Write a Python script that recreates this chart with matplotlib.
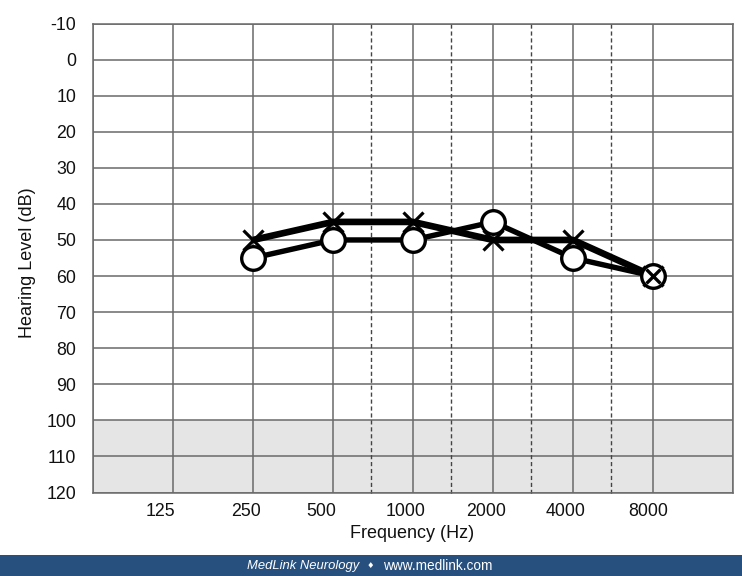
import matplotlib
matplotlib.use("Agg")
import matplotlib.pyplot as plt
from matplotlib.patches import Rectangle
from matplotlib.transforms import ScaledTranslation

plt.rcParams['font.family'] = ['Liberation Sans', 'DejaVu Sans']

# audiogram values
freq_labels = ['125', '250', '500', '1000', '2000', '4000', '8000']
freq_pos = [1, 2, 3, 4, 5, 6, 7]
hl_ticks = [-10, 0, 10, 20, 30, 40, 50, 60, 70, 80, 90, 100, 110, 120]
dashed_pos = [3.48, 4.48, 5.47, 6.48]
test_pos = [2, 3, 4, 5, 6, 7]
hl_x = [50, 45, 45, 50, 50, 60]
hl_o = [55, 50, 50, 45, 55, 60]

W, H = 742, 576
LEFT, RIGHT, TOP, BOTTOM = 93, 733, 23.5, 492.5
GRID = '#6a6a6a'

fig = plt.figure(figsize=(W / 100, H / 100), dpi=100)
ax = fig.add_axes([LEFT / W, 1 - BOTTOM / H, (RIGHT - LEFT) / W, (BOTTOM - TOP) / H])
ax.set_xlim(0, 8)
ax.set_ylim(120, -10)

ax.axhspan(100, 120, color='#e5e5e5', lw=0, zorder=0)
ax.grid(True, color=GRID, lw=1.1, zorder=1)
ax.set_axisbelow(True)
for s in ax.spines.values():
    s.set_color(GRID)
    s.set_linewidth(1.1)
for d in dashed_pos:
    ax.plot([d, d], [-10, 120.6], color='#444444', lw=1, ls=(0, (3, 2)), zorder=1.5, clip_on=False)

ax.set_xticks([0] + freq_pos + [8])
ax.set_xticklabels([''] + freq_labels + [''], fontsize=12.8, color='#111111')
ax.set_yticks(hl_ticks)
ax.set_yticklabels([str(v) for v in hl_ticks], fontsize=12.8, color='#111111')
ax.tick_params(length=0, axis='y', pad=12)
ax.tick_params(length=0, axis='x', pad=7.5)

# the x labels sit a bit left of their grid lines in the original
shifts = [0, -13, -7, -12, -7, -7, -7, -5, 0]
for lab, dx in zip(ax.get_xticklabels(), shifts):
    lab.set_transform(lab.get_transform() + ScaledTranslation(dx / 100, 0, fig.dpi_scale_trans))

ax.plot(test_pos, hl_x, color='black', lw=4.8, marker='x', ms=15, mew=2.3, zorder=3, solid_capstyle='butt')
ax.plot(test_pos, hl_o, color='black', lw=3.9, zorder=3.5, solid_capstyle='butt')
ax.plot(test_pos, hl_o, ls='none', marker='o', ms=17, mew=2.4, mec='black', mfc='white', zorder=4)
ax.plot(test_pos[-1:], hl_x[-1:], ls='none', marker='x', ms=10, mew=2.4, color='black', zorder=5)

fig.text(412 / W, 1 - 533 / H, 'Frequency (Hz)', fontsize=13, color='#111111', ha='center', va='center')
fig.text(27 / W, 1 - 263 / H, 'Hearing Level (dB)', fontsize=13, color='#111111',
         rotation=90, ha='center', va='center')

# footer band
fig.add_artist(Rectangle((0, 0), 1, 21 / H, transform=fig.transFigure, color='#27507f', lw=0))
fig.text(247 / W, 1 - 566 / H, 'MedLink Neurology', fontsize=9.35, style='italic', color='white', ha='left', va='center')
fig.text(370 / W, 1 - 566 / H, '\u2666', fontsize=6, color='white', ha='center', va='center',
         family=['DejaVu Sans'])
fig.text(383 / W, 1 - 566 / H, 'www.medlink.com', fontsize=9.8, color='white', ha='left', va='center')

fig.savefig('out.png', dpi=100)
